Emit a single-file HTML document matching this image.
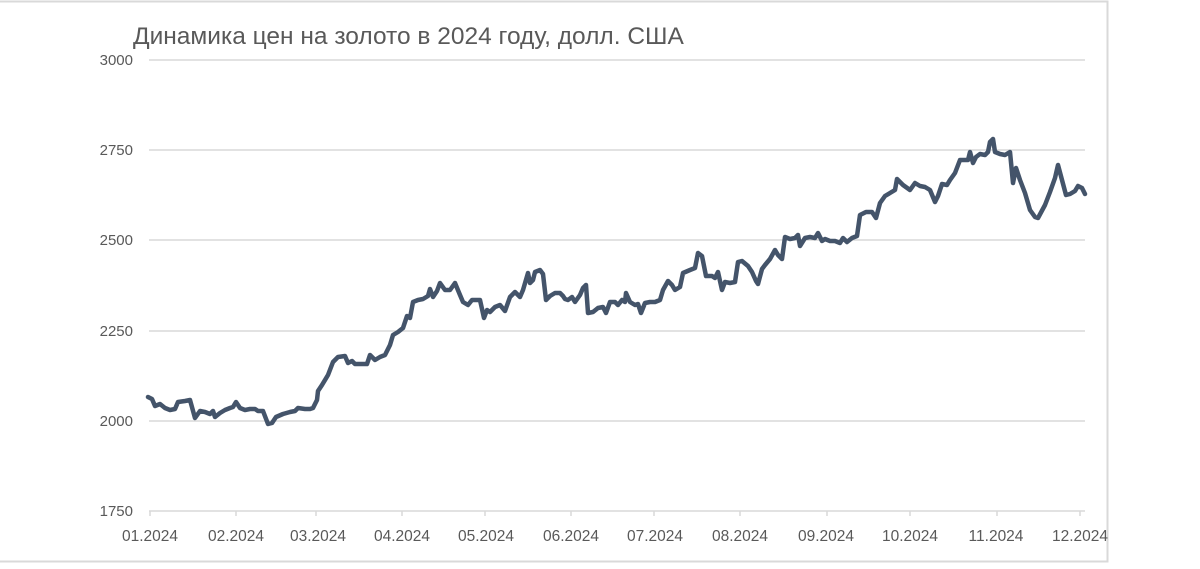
<!DOCTYPE html>
<html><head><meta charset="utf-8"><style>
html,body{margin:0;padding:0;background:#fff;}
</style></head><body>
<svg width="1200" height="564" viewBox="0 0 1200 564" xmlns="http://www.w3.org/2000/svg" font-family="'Liberation Sans', sans-serif">
<rect x="-20" y="1.5" width="1127.5" height="560" fill="#fff" stroke="#d9d9d9" stroke-width="2"/>
<text x="133" y="44" font-size="24.5" fill="#595959">Динамика цен на золото в 2024 году, долл. США</text>
<g stroke="#d9d9d9" stroke-width="1.5">
<line x1="149" y1="60" x2="1085" y2="60"/>
<line x1="149" y1="150" x2="1085" y2="150"/>
<line x1="149" y1="240" x2="1085" y2="240"/>
<line x1="149" y1="331" x2="1085" y2="331"/>
<line x1="149" y1="421" x2="1085" y2="421"/>
<line x1="149" y1="511" x2="1085" y2="511"/>
<line x1="150" y1="511" x2="150" y2="516"/><line x1="236" y1="511" x2="236" y2="516"/><line x1="316" y1="511" x2="316" y2="516"/><line x1="402" y1="511" x2="402" y2="516"/><line x1="485" y1="511" x2="485" y2="516"/><line x1="571" y1="511" x2="571" y2="516"/><line x1="654" y1="511" x2="654" y2="516"/><line x1="740" y1="511" x2="740" y2="516"/><line x1="827" y1="511" x2="827" y2="516"/><line x1="910" y1="511" x2="910" y2="516"/><line x1="997" y1="511" x2="997" y2="516"/><line x1="1080" y1="511" x2="1080" y2="516"/>
</g>
<g font-size="15" fill="#595959" text-anchor="end">
<text x="133" y="65">3000</text><text x="133" y="155">2750</text><text x="133" y="245">2500</text><text x="133" y="336">2250</text><text x="133" y="426">2000</text><text x="133" y="516">1750</text>
</g>
<g font-size="15.5" fill="#595959" text-anchor="middle">
<text x="150" y="541">01.2024</text><text x="236" y="541">02.2024</text><text x="318" y="541">03.2024</text><text x="402" y="541">04.2024</text><text x="486" y="541">05.2024</text><text x="571" y="541">06.2024</text><text x="655" y="541">07.2024</text><text x="740" y="541">08.2024</text><text x="826" y="541">09.2024</text><text x="910" y="541">10.2024</text><text x="996" y="541">11.2024</text><text x="1080" y="541">12.2024</text>
</g>
<polyline fill="none" stroke="#44546a" stroke-width="4.5" stroke-linejoin="round" stroke-linecap="round" points="148,397 152,399 155,406 160,404 165,408 170,410 175,409 178,402 185,401 190,400 195,418 200,411 205,412 210,414 213,411 215,417 220,413 225,410 230,408 233,407 236,402 240,408 245,410 250,409 255,409 258,411 263,411 268,424 272,423 276,417 283,414 290,412 295,411 298,408 305,409 310,409 313,408 317,400 318,391 322,385 328,375 333,362 338,357 345,356 348,363 352,361 355,364 360,364 367,364 370,355 375,360 380,357 385,355 390,345 393,335 398,332 403,328 407,316 410,318 413,302 418,300 423,299 428,296 430,289 433,297 437,291 440,283 445,290 450,290 455,283 460,295 463,302 468,305 472,300 480,300 484,318 487,310 490,312 495,307 500,305 505,311 510,297 515,292 520,297 523,290 528,273 530,283 533,280 535,272 540,270 543,274 546,300 550,296 555,293 560,293 563,296 565,299 568,300 572,297 575,302 580,295 583,288 586,285 588,313 593,312 598,308 603,307 606,313 610,302 615,302 618,305 622,300 625,302 626,293 630,302 635,305 638,304 641,313 645,303 650,302 655,302 660,300 663,290 668,281 672,285 675,290 680,287 683,273 690,270 695,268 698,253 702,256 706,276 712,276 715,278 718,272 722,290 725,282 730,283 735,282 738,262 742,261 748,266 752,272 756,281 758,284 762,269 765,265 770,259 775,250 778,255 782,259 785,237 790,239 795,238 798,235 800,246 805,238 810,237 815,238 818,233 822,241 825,239 830,241 835,241 840,243 843,238 847,242 852,238 857,236 860,215 866,212 872,212 876,218 880,203 885,196 890,193 895,190 897,179 903,185 910,190 915,183 920,186 925,187 930,190 935,202 938,196 942,184 947,185 950,180 955,173 960,160 965,160 968,160 970,152 973,163 976,157 980,154 985,155 988,152 990,142 993,139 995,152 1000,154 1005,155 1010,152 1013,183 1016,168 1020,180 1025,193 1030,210 1035,217 1038,218 1045,205 1050,192 1055,178 1058,165 1062,180 1066,195 1070,194 1075,191 1078,186 1082,188 1085,194"/>
</svg>
</body></html>
